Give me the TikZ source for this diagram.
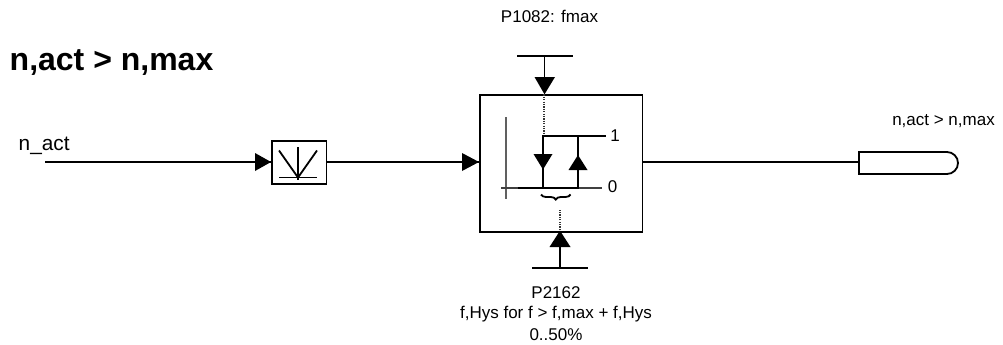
\documentclass[tikz,border=0pt]{standalone}
\usepackage{fontspec}
\setmainfont{Liberation Sans}
\usetikzlibrary{decorations.pathreplacing,calc}
\tikzset{x=1pt,y=-1pt,
  wire/.style={line width=1.8pt,line cap=butt},
  blockbox/.style={draw,line width=1.8pt,minimum width=0pt,inner sep=0pt,fill=white},
  axis/.style={line width=1.1pt,color=gray!75!black},
  dots/.style={line width=1.1pt,dash pattern=on 1.2pt off 1.2pt,color=black!80},
  lbl/.style={inner sep=0pt,font=\fontsize{17}{20}\selectfont,align=center}}
\begin{document}
\begin{tikzpicture}
\useasboundingbox (0,0) rectangle (1003,345);
% blocks
\node[blockbox,minimum width=162.5pt,minimum height=136.5pt,anchor=north west] (main) at (479,94.3) {};
\node[blockbox,minimum width=54.5pt,minimum height=43pt,anchor=north west] (abs) at (271,140) {};
% free ends
\coordinate (inL) at (45,162);
\coordinate (topbarL) at (517,56);\coordinate (topbarR) at (573,56);
\coordinate (topS) at (544.5,56);\coordinate (topE) at (544.5,94.3);
\coordinate (botbarL) at (532,268);\coordinate (botbarR) at (588,268);
\coordinate (botS) at (560,268);\coordinate (botE) at (560,230.7);
% output pill
\draw[line width=1.8pt] (859,152) -- (947,152) arc[start angle=-90,end angle=90,radius=11] -- (859,174) -- cycle;
% wires
\draw[wire] (inL) -- (abs.west |- inL);
\draw[wire] (abs.east |- inL) -- (main.west |- inL);
\draw[wire] (main.east |- inL) -- (859,162);
\draw[wire] (topbarL) -- (topbarR);
\draw[wire] (topS) -- (topE);
\draw[wire] (botbarL) -- (botbarR);
\draw[wire] (botS) -- (botE);
% arrowheads
\fill (271,162) -- (255,153) -- (255,171) -- cycle;
\fill (479,162) -- (462,153) -- (462,171) -- cycle;
\fill (topE) -- (534.5,77) -- (555,77) -- cycle;
\fill (botE) -- (549.5,247) -- (570.5,247) -- cycle;
% abs symbol
\draw[line width=1.8pt] (279,150.5) -- (298,177.5) -- (317,150.5);
\draw[line width=1.8pt] (298,147) -- (298,179.5);
\draw[line width=1.8pt] (279,177.5) -- (317,177.5);
% hysteresis
\draw[axis] (506,117) -- (506,199);
\draw[axis,color=black!75] (501,188) -- (602,188);
\draw[dots] (544,94.3) -- (544,136);
\draw[dots] (560,230) -- (560,210);
\draw[wire] (542,136) -- (605.5,136);
\draw[wire] (518,188) -- (579,188);
\draw[wire] (543,136) -- (543,188);
\draw[wire] (578,136) -- (578,188);
\fill (543,169.5) -- (533.5,154) -- (552.5,154) -- cycle;
\fill (578,155) -- (568.5,170) -- (587.5,170) -- cycle;
\draw[line width=1.8pt,decorate,decoration={brace,mirror,amplitude=5pt}] (541,194.5) -- (570.5,194.5);
% labels
\node[lbl] (one) at (615,136) {1};
\node[lbl] (zero) at (612.7,187) {0};
\node[lbl,anchor=base] (pa) at (549.5,23) {P1082: fmax};
\node[lbl,anchor=base] (pb) at (556,298) {P2162};
\node[lbl,anchor=base] (pc) at (556,318.5) {f,Hys for f > f,max + f,Hys};
\node[lbl,anchor=base] (pd) at (556,340) {0..50\%};
\node[lbl,anchor=base] (outl) at (943.5,125) {n,act > n,max};
\node[lbl,anchor=base west,font=\fontsize{20.8}{24}\selectfont] (inl) at (18.5,150.5) {n\_act};
\node[lbl,anchor=base west,font=\bfseries\fontsize{32}{36}\selectfont] (title) at (9.5,70.5) {n,act > n,max};
\end{tikzpicture}
\end{document}
